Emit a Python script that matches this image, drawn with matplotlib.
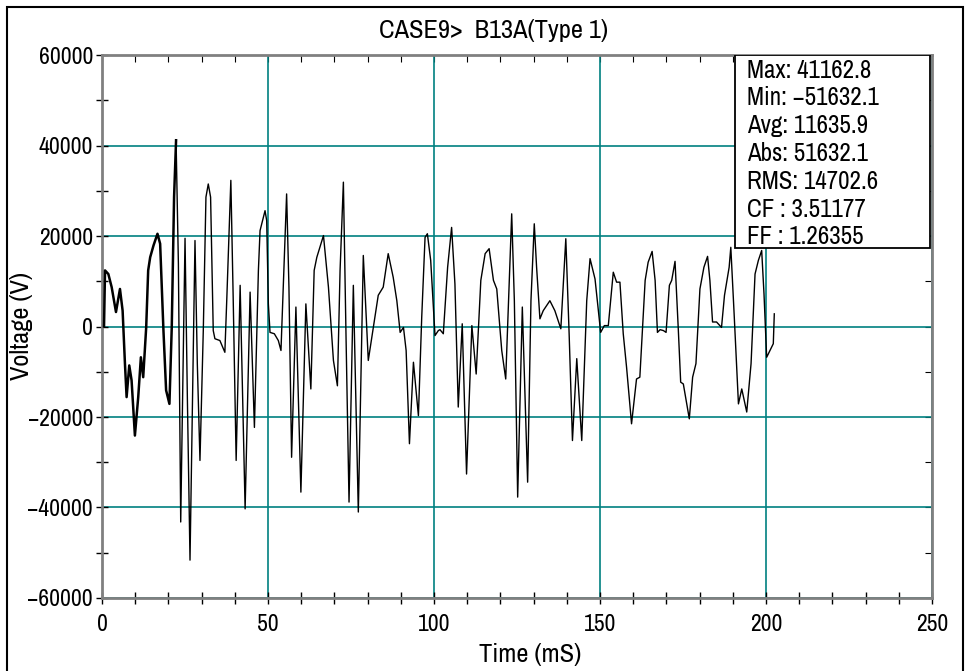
import numpy as np
import matplotlib
matplotlib.use('Agg')
import matplotlib.pyplot as plt
from matplotlib import font_manager
from matplotlib.patches import Rectangle
from matplotlib.ticker import MultipleLocator

# pick a narrow font if one is around
fonts = font_manager.fontManager.ttflist
narrow = [f for f in fonts if 'Narrow' in f.name or 'Condensed' in f.name]
cond = [f for f in fonts if f.stretch in ('condensed', 'semi-condensed', 'extra-condensed')
        and f.style == 'normal' and f.weight in (400, 'normal', 'regular')]
if narrow:
    plt.rcParams['font.family'] = [narrow[0].name, 'DejaVu Sans']
    fs = 17
elif cond:
    plt.rcParams['font.family'] = [cond[0].name, 'DejaVu Sans']
    plt.rcParams['font.stretch'] = 'condensed'
    fs = 17
else:
    plt.rcParams['font.family'] = ['DejaVu Sans']
    fs = 13

# waveform: time (ms) and voltage (V)
time_ms = [0.6, 0.9, 1.9, 2.9, 4.2, 5.4, 6.2, 6.9, 7.4, 8.2, 8.9, 9.9, 10.9, 11.7, 12.4,
           13.3, 13.9, 14.5, 15.5, 16.7, 17.5, 18.5, 19.3, 20.3, 21.0, 21.7, 22.3, 23.0,
           23.7, 25.0, 25.7, 26.5, 28.0, 28.7, 29.5, 30.5, 31.3, 32.0, 32.7, 33.5, 34.0,
           35.5, 37.0, 37.6, 38.8, 39.5, 40.4, 41.6, 43.1, 44.6, 45.9, 47.1, 47.6, 49.1,
           49.6, 50.1, 50.6, 51.9, 53.1, 53.9, 54.6, 55.6, 56.3, 57.1, 58.4, 59.9, 61.4,
           62.9, 63.9, 64.7, 66.7, 68.2, 69.7, 70.9, 71.7, 72.7, 73.5, 74.4, 75.7, 77.2,
           78.7, 80.2, 82.2, 83.2, 84.7, 86.2, 87.7, 88.8, 89.8, 90.8, 91.6, 92.6, 93.8,
           95.3, 96.3, 97.3, 98.0, 99.0, 100.3, 101.3, 101.8, 102.8, 104.1, 105.3, 106.3,
           107.3, 108.5, 109.8, 111.4, 112.7, 114.1, 115.4, 116.6, 117.9, 118.9, 120.4,
           121.6, 123.4, 124.2, 125.2, 126.6, 128.2, 129.2, 130.2, 130.9, 131.9, 132.9,
           134.9, 136.4, 138.2, 139.7, 140.7, 141.7, 143.0, 144.5, 146.0, 147.0, 148.5,
           149.2, 150.2, 151.3, 152.5, 154.0, 155.0, 156.0, 157.0, 158.0, 159.5, 161.0,
           162.0, 163.6, 164.5, 165.7, 166.6, 167.3, 168.1, 169.1, 169.9, 170.9, 171.6,
           172.6, 173.6, 174.3, 175.1, 176.9, 177.9, 178.9, 180.1, 181.3, 182.4, 183.1,
           183.9, 185.1, 186.6, 187.5, 188.9, 189.4, 190.4, 191.7, 192.7, 194.2, 195.5,
           196.7, 197.7, 198.7, 199.4, 200.2, 201.2, 202.2, 202.5]
voltage = [0, 12400, 11600, 8700, 3200, 8300, 3500, -8200, -15600, -8600, -11900, -24100,
           -15600, -6800, -11200, -200, 12400, 15300, 17900, 20500, 18300, -900, -14100,
           -17100, -200, 28600, 41162.8, 13900, -43200, 19500, -15600, -51632.1, 19000,
           -8200, -29600, -900, 28600, 31500, 28600, -900, -2700, -3100, -5700, 6500,
           32300, 6500, -29600, 9100, -40300, 7600, -22300, 12400, 21200, 25600, 23400,
           5000, -1300, -1600, -3100, -5300, 8700, 29300, 8700, -28900, 4300, -36600, 5000,
           -13800, 12400, 15300, 20100, 8700, -7500, -13100, 12400, 31900, -2400, -38800,
           9100, -41000, 15700, -7500, 2100, 6900, 8700, 16100, 10900, 5700, -1300, -200,
           -5300, -25900, -7900, -19700, 2100, 19700, 20500, 14600, -2000, -900, -700,
           -1600, 13100, 21900, 9400, -17800, 600, -32600, 200, -10500, 10200, 16100, 17200,
           10200, 8300, -5300, -11600, 24900, 5700, -37700, 4300, -34400, 5700, 22700,
           13100, 1700, 3500, 5700, 3500, -500, 19400, -1600, -25200, -7100, -25200, 5700,
           15000, 10500, 5700, -1300, 200, 200, 12000, 9800, 9800, -1600, -9000, -21500,
           -11600, -11200, 10200, 14200, 16600, 10200, -1300, -700, -900, -1300, 9100,
           10200, 14400, -900, -12300, -12700, -20400, -11200, -8200, 8300, 13100, 15500,
           10200, 1000, 1000, -200, 6900, 13100, 17500, 2800, -17100, -13800, -18900,
           -8200, 11600, 14600, 16800, 7200, -6800, -5300, -3800, 2800]

stat_names = ['Max:', 'Min:', 'Avg:', 'Abs:', 'RMS:', 'CF :', 'FF :']
stat_values = ['41162.8', '\u221251632.1', '11635.9', '51632.1', '14702.6', '3.51177', '1.26355']

teal = '#008080'
fig = plt.figure(figsize=(9.69, 6.71), dpi=100)
ax = fig.add_axes([0.1053, 0.1088, 0.8565, 0.8092])

ax.plot(time_ms[:27], voltage[:27], color='black', lw=1.8, zorder=3)
ax.plot(time_ms[26:], voltage[26:], color='black', lw=1.0, zorder=3)

ax.set_xlim(0, 250)
ax.set_ylim(-60000, 60000)
ax.xaxis.set_major_locator(MultipleLocator(50))
ax.xaxis.set_minor_locator(MultipleLocator(10))
ax.yaxis.set_major_locator(MultipleLocator(20000))
ax.yaxis.set_minor_locator(MultipleLocator(10000))
ax.grid(True, which='major', color=teal, lw=1.2)
ax.tick_params(axis='both', which='both', direction='inout', length=9, width=1,
               color='black', labelsize=fs, pad=2)
ax.tick_params(axis='x', pad=7)
for s in ax.spines.values():
    s.set_color('#808080')
    s.set_linewidth(2)

# ticks on top and right, pointing in
top = ax.secondary_xaxis('top')
top.xaxis.set_major_locator(MultipleLocator(10))
top.tick_params(direction='in', length=5, labeltop=False, color='black')
top.spines['top'].set_visible(False)
right = ax.secondary_yaxis('right')
right.yaxis.set_major_locator(MultipleLocator(10000))
right.tick_params(direction='in', length=5, labelright=False, color='black')
right.spines['right'].set_visible(False)

# statistics box
ax.add_patch(Rectangle((0.7627, 0.6446), 0.2349, 0.3554, transform=ax.transAxes,
                       facecolor='white', edgecolor='black', lw=1.3, zorder=5))
for i, (n, v) in enumerate(zip(stat_names, stat_values)):
    ax.text(0.7771, 0.9724 - i * 0.0512, f'{n} {v}', transform=ax.transAxes,
            fontsize=fs + 1, va='center', ha='left', zorder=6)

fig.text(0.509, 0.955, 'CASE9>  B13A(Type 1)', fontsize=fs + 2, ha='center', va='center')
fig.text(0.547, 0.024, 'Time (mS)', fontsize=fs + 2, ha='center', va='center')
fig.text(0.0227, 0.514, 'Voltage (V)', fontsize=fs + 2, ha='center', va='center', rotation=90)

fig.add_artist(Rectangle((0.0072, -0.02), 0.9866, 1.0096, transform=fig.transFigure,
                         facecolor='none', edgecolor='black', lw=1.5))

fig.savefig('out.png', dpi=100)
